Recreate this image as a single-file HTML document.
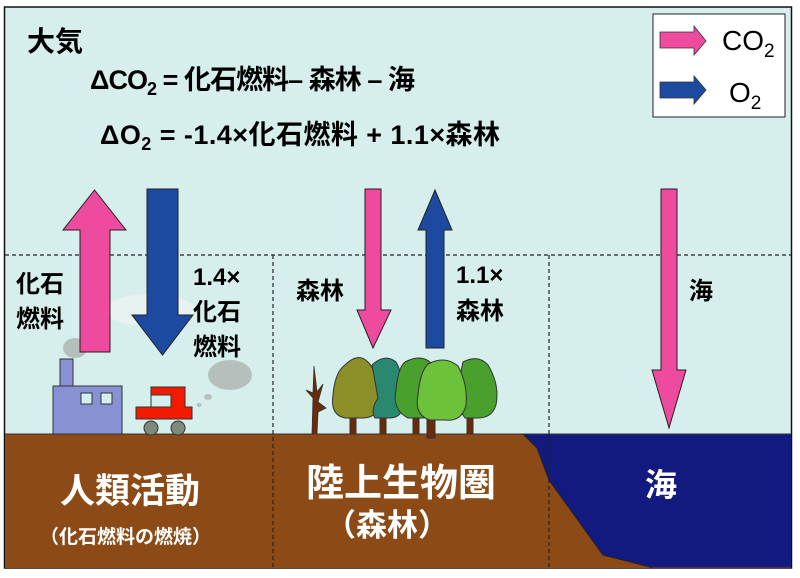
<!DOCTYPE html>
<html><head><meta charset="utf-8"><style>
html,body{margin:0;padding:0;background:#fff;}
svg{display:block;}
text{font-family:"Liberation Sans","Noto Sans CJK JP",sans-serif;font-weight:bold;}
</style></head><body>
<svg width="800" height="578" viewBox="0 0 800 578" xmlns="http://www.w3.org/2000/svg">
<rect x="4.5" y="7" width="787" height="561" fill="#d6efec" stroke="#111" stroke-width="1.5"/>
<rect x="5" y="434" width="786" height="134" fill="#8c4a16"/>
<path d="M523,434 L791,434 L791,567.5 L652,567.5 L603,555 L549,480 L537,448 Z" fill="#12197f"/>
<path d="M523,434 L537,448 L549,480 L603,555 L652,567.5" fill="none" stroke="#222" stroke-width="1"/>
<line x1="5" y1="434" x2="791" y2="434" stroke="#333" stroke-width="1"/>
<line x1="5" y1="255" x2="791" y2="255" stroke="#222" stroke-width="1.2" stroke-dasharray="4,3"/>
<line x1="273" y1="255" x2="273" y2="568" stroke="#222" stroke-width="1.2" stroke-dasharray="4,3"/>
<line x1="549" y1="255" x2="549" y2="568" stroke="#222" stroke-width="1.2" stroke-dasharray="4,3"/>
<g fill="#b5c0bc">
<ellipse cx="150" cy="310" rx="45" ry="16" fill="#e8f2f0"/>
<ellipse cx="75" cy="348" rx="12" ry="10"/>
<ellipse cx="230" cy="375" rx="22" ry="15"/>
<ellipse cx="208" cy="397" rx="4" ry="3"/>
<ellipse cx="199" cy="405" rx="2.5" ry="2"/>
</g>
<rect x="60" y="359" width="13" height="27" fill="#8891d4" stroke="#333"/>
<rect x="53" y="386" width="69" height="48" fill="#8891d4" stroke="#333"/>
<rect x="81" y="393" width="11" height="11" fill="#d6efec" stroke="#333"/>
<rect x="101" y="393" width="11" height="11" fill="#d6efec" stroke="#333"/>
<path d="M151,387 H185 V407 H192 V419 H136 V407 H151 Z" fill="#f21b00" stroke="#333"/>
<rect x="151" y="395" width="20" height="12" fill="#d6efec" stroke="#333"/>
<circle cx="151" cy="428" r="7" fill="#7d8a7d" stroke="#333"/>
<circle cx="178" cy="428" r="7" fill="#7d8a7d" stroke="#333"/>
<path d="M312,434 L313,398 L306,390 L313,393 L314,366 L317,392 L323,384 L318,402 L326,408 L318,412 L317,434Z" fill="#6b2a0a" stroke="#333" stroke-width="0.8"/>
<g stroke="#333" stroke-width="1">
<rect x="350" y="410" width="6" height="24" fill="#6b2a0a"/>
<rect x="380" y="410" width="6" height="24" fill="#6b2a0a"/>
<rect x="413" y="410" width="6" height="24" fill="#6b2a0a"/>
<rect x="467" y="410" width="6" height="24" fill="#6b2a0a"/>
<rect x="427" y="410" width="8" height="28" fill="#6b2a0a"/>
<path d="M345,365 Q358,352 368,362 Q378,372 378,400 Q380,418 362,418 L345,418 Q330,415 333,395 Q335,372 345,365Z" fill="#8c8e28"/>
<path d="M372,365 Q385,353 396,362 Q402,372 405,395 Q405,418 390,418 L375,418 Q370,410 378,398 Z" fill="#2a8870"/>
<path d="M405,362 Q420,354 430,362 Q435,390 430,418 L408,418 Q392,410 396,390 Q398,368 405,362Z" fill="#4aa02c"/>
<path d="M463,362 Q478,354 488,365 Q500,385 496,405 Q492,418 478,418 L465,418 Q455,405 458,385 Z" fill="#4aa02c"/>
<path d="M428,364 Q445,355 458,366 Q468,385 466,405 Q462,422 445,420 L430,420 Q414,415 418,395 Q420,372 428,364Z" fill="#6cc23a"/>
</g>
<g stroke="#222" stroke-width="1">
<path d="M80,352 V230 H63 L94.5,190 L126,230 H110 V352 Z" fill="#ee4a9e"/>
<path d="M147,189 H178 V315 H193 L162.5,355 L132,315 H147 Z" fill="#1c4aa0"/>
<path d="M365,189 H381 V310 H391 L373,348 L357,310 H365 Z" fill="#ee4a9e"/>
<path d="M426,348 V230 H418 L435,190 L452,230 H444 V348 Z" fill="#1c4aa0"/>
<path d="M661,189 H677 V370 H686 L669,428 L652,370 H661 Z" fill="#ee4a9e"/>
</g>
<rect x="653" y="14" width="132" height="103" fill="#fff" stroke="#222"/>
<path d="M660,32 H694 V26 L706,41 L694,55 V48 H660 Z" fill="#ee4a9e" stroke="#333" stroke-width="0.8"/>
<path d="M660,82 H694 V76 L706,90 L694,104 V98 H660 Z" fill="#1c4aa0" stroke="#333" stroke-width="0.8"/>
<text x="722" y="50" font-size="28" style="font-weight:normal">CO<tspan font-size="19" dy="7">2</tspan></text>
<text x="729" y="102" font-size="28" style="font-weight:normal">O<tspan font-size="19" dy="7">2</tspan></text>
<text x="27" y="51" font-size="28">大気</text>
<text x="90" y="89" font-size="27" textLength="325">ΔCO<tspan font-size="18" dy="6">2</tspan><tspan dy="-6"> = 化石燃料– 森林 – 海</tspan></text>
<text x="100" y="144" font-size="27" textLength="400">ΔO<tspan font-size="18" dy="6">2</tspan><tspan dy="-6">  = -1.4×化石燃料 + 1.1×森林</tspan></text>
<g font-size="24">
<text x="16" y="292">化石</text>
<text x="16" y="327">燃料</text>
<text x="193" y="285">1.4×</text>
<text x="193" y="320">化石</text>
<text x="193" y="355">燃料</text>
<text x="296" y="299">森林</text>
<text x="456" y="283">1.1×</text>
<text x="456" y="319">森林</text>
<text x="689" y="299">海</text>
</g>
<g fill="#fff">
<text x="60" y="503" font-size="35">人類活動</text>
<text x="40" y="543" font-size="19">（化石燃料の燃焼）</text>
<text x="306" y="496" font-size="38">陸上生物圏</text>
<text x="325" y="536" font-size="31">（森林）</text>
<text x="645" y="496" font-size="32">海</text>
</g>
</svg>
</body></html>
